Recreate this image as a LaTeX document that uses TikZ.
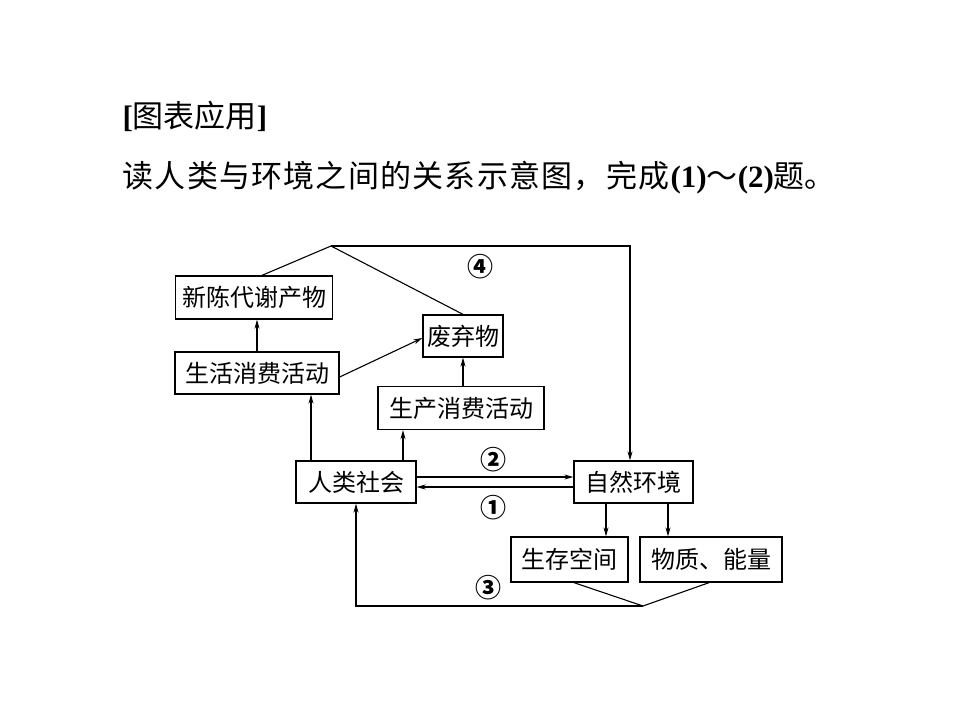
\documentclass[tikz,border=0pt]{standalone}
\usepackage{fontspec}
\setmainfont{Liberation Serif}
\newfontfamily\cjk{Noto Sans CJK SC}
\newfontfamily\cjkwide[LetterSpace=4]{Noto Sans CJK SC}
\usetikzlibrary{arrows.meta}
\begin{document}
\begin{tikzpicture}[x=1pt,y=-1pt,
  box/.style={draw,line width=1.3pt,inner sep=0pt,font=\cjk\fontsize{24}{24}\selectfont},
  arr/.style={-{Stealth[length=9pt,width=5pt]}},
  num/.style={inner sep=0pt,font=\cjk\bfseries\fontsize{26}{26}\selectfont},
  line width=1.1pt]
  \useasboundingbox (0,0) rectangle (960,720);
  \node[anchor=west,inner sep=0pt] (title) at (122,116) {\fontsize{31}{31}\selectfont\textbf{[}{\cjk 图表应用}\textbf{]}};
  \node[anchor=west,inner sep=0pt] (task) at (122,178) {\fontsize{31}{31}\selectfont{\cjkwide 读人类与环境之间的关系示意图，完成}\textbf{(1)}{\cjk ～}\textbf{(2)}{\cjk 题。}};

  \node[box,minimum width=157,minimum height=43] (xcdx) at (254,297.5) {新陈代谢产物};
  \node[box,minimum width=164,minimum height=42] (shxf) at (257,373) {生活消费活动};
  \node[box,minimum width=80,minimum height=42] (fqw) at (463,336) {废弃物};
  \node[box,minimum width=166,minimum height=43] (scxf) at (461,408) {生产消费活动};
  \node[box,minimum width=120,minimum height=42] (rlsh) at (356,482) {人类社会};
  \node[box,minimum width=119,minimum height=42] (zrhj) at (633.5,482) {自然环境};
  \node[box,minimum width=117,minimum height=45] (sckj) at (569.5,559.5) {生存空间};
  \node[box,minimum width=142,minimum height=45] (wznl) at (711,559.5) {物质、能量};

  \coordinate (top) at (331,246);
  \coordinate (bot) at (643,606);
  \draw ([xshift=8pt]xcdx.north) -- (top) -- (fqw.north);
  \draw[arr] (top) -- (630,246) -- ([xshift=-3.5pt]zrhj.north);
  \draw[arr] (shxf.north) -- (shxf.north |- xcdx.south);
  \draw[arr] ([yshift=-4pt]shxf.east) -- ([yshift=-2pt]fqw.west);
  \draw[arr] (scxf.north -| fqw.south) -- (fqw.south);
  \draw[arr] ([xshift=-45pt]rlsh.north) -- ([xshift=-45pt]rlsh.north |- shxf.south);
  \draw[arr] ([xshift=47pt]rlsh.north) -- ([xshift=47pt]rlsh.north |- scxf.south);
  \draw[arr] ([yshift=5pt]rlsh.east) -- ([yshift=5pt]zrhj.west);
  \draw[arr] ([yshift=-5pt]zrhj.west) -- ([yshift=-5pt]rlsh.east);
  \draw[arr] ([xshift=-27.5pt]zrhj.south) -- ([xshift=-27.5pt]zrhj.south |- sckj.north);
  \draw[arr] ([xshift=34.5pt]zrhj.south) -- ([xshift=34.5pt]zrhj.south |- wznl.north);
  \draw ([xshift=4.5pt]sckj.south) -- (bot) -- ([xshift=-2pt]wznl.south);
  \draw[arr] (bot) -| (rlsh.south);

  \node[num] (n4) at (480,267) {④};
  \node[num] (n2) at (493,460) {②};
  \node[num] (n1) at (493,508) {①};
  \node[num] (n3) at (488,588) {③};
\end{tikzpicture}
\end{document}
